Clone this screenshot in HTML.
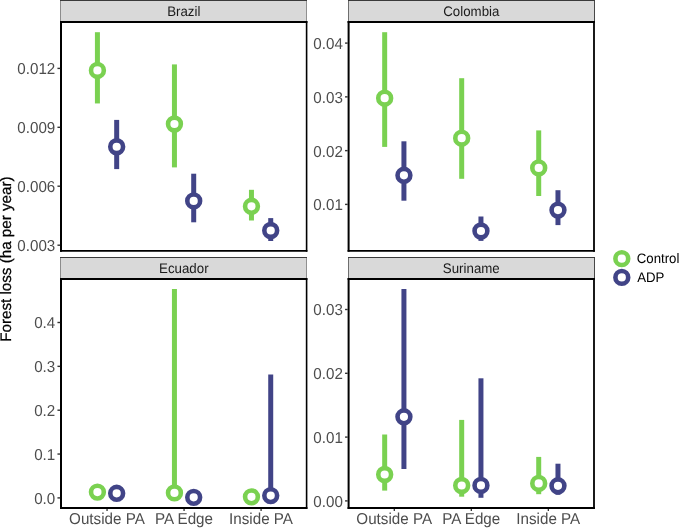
<!DOCTYPE html>
<html><head><meta charset="utf-8"><title>Forest loss</title>
<style>
html,body{margin:0;padding:0;background:#fff;}
svg{display:block;}
text{font-family:"Liberation Sans",Arial,Helvetica,sans-serif;text-rendering:geometricPrecision;}
.ax{font-size:15.2px;fill:#4D4D4D;}
.st{font-size:13.3px;fill:#1A1A1A;}
.lg{font-size:13.25px;fill:#000;}
.ti{font-size:15.2px;fill:#000;}
</style></head><body>
<svg width="685" height="528" viewBox="0 0 685 528">
<rect x="0" y="0" width="685" height="528" fill="#fff"/>
<g shape-rendering="crispEdges"><rect x="60" y="0" width="247" height="22" fill="#D9D9D9"/><rect x="60" y="0" width="1" height="22" fill="#8C8C8C"/><rect x="306" y="0" width="1" height="22" fill="#909090"/><rect x="60" y="0" width="247" height="1" fill="#3A3A3A"/></g>
<text class="st" transform="translate(183.80,15.90) scale(1,1.04)" text-anchor="middle">Brazil</text>
<line x1="97.42" x2="97.42" y1="32.2" y2="103.45" stroke="#7AD151" stroke-width="5.0"/><circle cx="97.42" cy="70.45" r="6.4" fill="#fff" stroke="#7AD151" stroke-width="4.6"/>
<line x1="116.68" x2="116.68" y1="119.9" y2="169.1" stroke="#414487" stroke-width="5.0"/><circle cx="116.68" cy="146.75" r="6.4" fill="#fff" stroke="#414487" stroke-width="4.6"/>
<line x1="174.44" x2="174.44" y1="64.4" y2="167.4" stroke="#7AD151" stroke-width="5.0"/><circle cx="174.44" cy="124.0" r="6.4" fill="#fff" stroke="#7AD151" stroke-width="4.6"/>
<line x1="193.7" x2="193.7" y1="173.7" y2="222.3" stroke="#414487" stroke-width="5.0"/><circle cx="193.7" cy="200.9" r="6.4" fill="#fff" stroke="#414487" stroke-width="4.6"/>
<line x1="251.46" x2="251.46" y1="189.8" y2="220.5" stroke="#7AD151" stroke-width="5.0"/><circle cx="251.46" cy="206.3" r="6.4" fill="#fff" stroke="#7AD151" stroke-width="4.6"/>
<line x1="270.72" x2="270.72" y1="218.1" y2="241.0" stroke="#414487" stroke-width="5.0"/><circle cx="270.72" cy="230.5" r="6.4" fill="#fff" stroke="#414487" stroke-width="4.6"/>
<g stroke="#000" fill="none"><line x1="61.0" x2="61.0" y1="21.00" y2="251.70" stroke-width="2.0"/><line x1="306.6" x2="306.6" y1="21.00" y2="251.70" stroke-width="1.6"/><line x1="60.00" x2="307.40" y1="21.95" y2="21.95" stroke-width="1.9"/><line x1="60.00" x2="307.40" y1="250.8" y2="250.8" stroke-width="1.8"/></g>
<line x1="57.45" x2="60.1" y1="68.4" y2="68.4" stroke="#333" stroke-width="1.4"/><text class="ax" transform="translate(55.30,74.30) scale(1,1.04)" text-anchor="end">0.012</text>
<line x1="57.45" x2="60.1" y1="127.3" y2="127.3" stroke="#333" stroke-width="1.4"/><text class="ax" transform="translate(55.30,133.20) scale(1,1.04)" text-anchor="end">0.009</text>
<line x1="57.45" x2="60.1" y1="186.2" y2="186.2" stroke="#333" stroke-width="1.4"/><text class="ax" transform="translate(55.30,192.10) scale(1,1.04)" text-anchor="end">0.006</text>
<line x1="57.45" x2="60.1" y1="245.2" y2="245.2" stroke="#333" stroke-width="1.4"/><text class="ax" transform="translate(55.30,251.10) scale(1,1.04)" text-anchor="end">0.003</text>
<g shape-rendering="crispEdges"><rect x="348" y="0" width="247" height="22" fill="#D9D9D9"/><rect x="348" y="0" width="1" height="22" fill="#6E6E6E"/><rect x="594" y="0" width="1" height="22" fill="#474747"/><rect x="348" y="0" width="247" height="1" fill="#3A3A3A"/></g>
<text class="st" transform="translate(471.30,15.90) scale(1,1.04)" text-anchor="middle">Colombia</text>
<line x1="384.67" x2="384.67" y1="32.2" y2="146.9" stroke="#7AD151" stroke-width="5.0"/><circle cx="384.67" cy="98.2" r="6.4" fill="#fff" stroke="#7AD151" stroke-width="4.6"/>
<line x1="403.93" x2="403.93" y1="141.3" y2="200.7" stroke="#414487" stroke-width="5.0"/><circle cx="403.93" cy="175.3" r="6.4" fill="#fff" stroke="#414487" stroke-width="4.6"/>
<line x1="461.69" x2="461.69" y1="78.2" y2="178.8" stroke="#7AD151" stroke-width="5.0"/><circle cx="461.69" cy="138.2" r="6.4" fill="#fff" stroke="#7AD151" stroke-width="4.6"/>
<line x1="480.95" x2="480.95" y1="216.5" y2="240.9" stroke="#414487" stroke-width="5.0"/><circle cx="480.95" cy="231.0" r="6.4" fill="#fff" stroke="#414487" stroke-width="4.6"/>
<line x1="538.71" x2="538.71" y1="130.4" y2="196.0" stroke="#7AD151" stroke-width="5.0"/><circle cx="538.71" cy="167.9" r="6.4" fill="#fff" stroke="#7AD151" stroke-width="4.6"/>
<line x1="557.97" x2="557.97" y1="190.2" y2="225.1" stroke="#414487" stroke-width="5.0"/><circle cx="557.97" cy="210.1" r="6.4" fill="#fff" stroke="#414487" stroke-width="4.6"/>
<g stroke="#000" fill="none"><line x1="348.6" x2="348.6" y1="21.00" y2="251.70" stroke-width="2.0"/><line x1="594.0" x2="594.0" y1="21.00" y2="251.70" stroke-width="1.8"/><line x1="347.60" x2="594.90" y1="21.95" y2="21.95" stroke-width="1.9"/><line x1="347.60" x2="594.90" y1="250.8" y2="250.8" stroke-width="1.8"/></g>
<line x1="345.05" x2="347.70000000000005" y1="43.1" y2="43.1" stroke="#333" stroke-width="1.4"/><text class="ax" transform="translate(342.90,49.00) scale(1,1.04)" text-anchor="end">0.04</text>
<line x1="345.05" x2="347.70000000000005" y1="96.87" y2="96.87" stroke="#333" stroke-width="1.4"/><text class="ax" transform="translate(342.90,102.77) scale(1,1.04)" text-anchor="end">0.03</text>
<line x1="345.05" x2="347.70000000000005" y1="150.63" y2="150.63" stroke="#333" stroke-width="1.4"/><text class="ax" transform="translate(342.90,156.53) scale(1,1.04)" text-anchor="end">0.02</text>
<line x1="345.05" x2="347.70000000000005" y1="204.4" y2="204.4" stroke="#333" stroke-width="1.4"/><text class="ax" transform="translate(342.90,210.30) scale(1,1.04)" text-anchor="end">0.01</text>
<g shape-rendering="crispEdges"><rect x="60" y="257" width="247" height="22" fill="#D9D9D9"/><rect x="60" y="257" width="1" height="22" fill="#8C8C8C"/><rect x="306" y="257" width="1" height="22" fill="#909090"/><rect x="60" y="257" width="247" height="1" fill="#3A3A3A"/></g>
<text class="st" transform="translate(183.80,272.90) scale(1,1.04)" text-anchor="middle">Ecuador</text>
<circle cx="97.42" cy="492.1" r="6.4" fill="#fff" stroke="#7AD151" stroke-width="4.6"/>
<circle cx="116.68" cy="493.3" r="6.4" fill="#fff" stroke="#414487" stroke-width="4.6"/>
<line x1="174.44" x2="174.44" y1="289.0" y2="492.9" stroke="#7AD151" stroke-width="5.0"/><circle cx="174.44" cy="492.9" r="6.4" fill="#fff" stroke="#7AD151" stroke-width="4.6"/>
<circle cx="193.7" cy="497.35" r="6.4" fill="#fff" stroke="#414487" stroke-width="4.6"/>
<circle cx="251.46" cy="496.85" r="6.4" fill="#fff" stroke="#7AD151" stroke-width="4.6"/>
<line x1="270.72" x2="270.72" y1="374.5" y2="495.6" stroke="#414487" stroke-width="5.0"/><circle cx="270.72" cy="495.6" r="6.4" fill="#fff" stroke="#414487" stroke-width="4.6"/>
<g stroke="#000" fill="none"><line x1="61.0" x2="61.0" y1="278.10" y2="509.00" stroke-width="2.0"/><line x1="306.6" x2="306.6" y1="278.10" y2="509.00" stroke-width="1.6"/><line x1="60.00" x2="307.40" y1="279.05" y2="279.05" stroke-width="1.9"/><line x1="60.00" x2="307.40" y1="508.0" y2="508.0" stroke-width="2.0"/></g>
<line x1="57.45" x2="60.1" y1="322.5" y2="322.5" stroke="#333" stroke-width="1.4"/><text class="ax" transform="translate(55.30,328.40) scale(1,1.04)" text-anchor="end">0.4</text>
<line x1="57.45" x2="60.1" y1="366.35" y2="366.35" stroke="#333" stroke-width="1.4"/><text class="ax" transform="translate(55.30,372.25) scale(1,1.04)" text-anchor="end">0.3</text>
<line x1="57.45" x2="60.1" y1="410.2" y2="410.2" stroke="#333" stroke-width="1.4"/><text class="ax" transform="translate(55.30,416.10) scale(1,1.04)" text-anchor="end">0.2</text>
<line x1="57.45" x2="60.1" y1="454.05" y2="454.05" stroke="#333" stroke-width="1.4"/><text class="ax" transform="translate(55.30,459.95) scale(1,1.04)" text-anchor="end">0.1</text>
<line x1="57.45" x2="60.1" y1="497.9" y2="497.9" stroke="#333" stroke-width="1.4"/><text class="ax" transform="translate(55.30,503.80) scale(1,1.04)" text-anchor="end">0.0</text>
<line x1="107.05" x2="107.05" y1="508.9" y2="511.1" stroke="#333" stroke-width="1.3"/><text class="ax" transform="translate(106.95,524.40) scale(1,1.04)" text-anchor="middle">Outside PA</text>
<line x1="184.07" x2="184.07" y1="508.9" y2="511.1" stroke="#333" stroke-width="1.3"/><text class="ax" transform="translate(183.97,524.40) scale(1,1.04)" text-anchor="middle">PA Edge</text>
<line x1="261.09" x2="261.09" y1="508.9" y2="511.1" stroke="#333" stroke-width="1.3"/><text class="ax" transform="translate(260.99,524.40) scale(1,1.04)" text-anchor="middle">Inside PA</text>
<g shape-rendering="crispEdges"><rect x="348" y="257" width="247" height="22" fill="#D9D9D9"/><rect x="348" y="257" width="1" height="22" fill="#6E6E6E"/><rect x="594" y="257" width="1" height="22" fill="#474747"/><rect x="348" y="257" width="247" height="1" fill="#3A3A3A"/></g>
<text class="st" transform="translate(471.30,272.90) scale(1,1.04)" text-anchor="middle">Suriname</text>
<line x1="384.67" x2="384.67" y1="434.5" y2="490.6" stroke="#7AD151" stroke-width="5.0"/><circle cx="384.67" cy="474.5" r="6.4" fill="#fff" stroke="#7AD151" stroke-width="4.6"/>
<line x1="403.93" x2="403.93" y1="288.9" y2="469.0" stroke="#414487" stroke-width="5.0"/><circle cx="403.93" cy="416.8" r="6.4" fill="#fff" stroke="#414487" stroke-width="4.6"/>
<line x1="461.69" x2="461.69" y1="419.9" y2="496.7" stroke="#7AD151" stroke-width="5.0"/><circle cx="461.69" cy="485.5" r="6.4" fill="#fff" stroke="#7AD151" stroke-width="4.6"/>
<line x1="480.95" x2="480.95" y1="378.3" y2="497.8" stroke="#414487" stroke-width="5.0"/><circle cx="480.95" cy="485.4" r="6.4" fill="#fff" stroke="#414487" stroke-width="4.6"/>
<line x1="538.71" x2="538.71" y1="456.9" y2="494.2" stroke="#7AD151" stroke-width="5.0"/><circle cx="538.71" cy="483.4" r="6.4" fill="#fff" stroke="#7AD151" stroke-width="4.6"/>
<line x1="557.97" x2="557.97" y1="463.7" y2="494.8" stroke="#414487" stroke-width="5.0"/><circle cx="557.97" cy="485.8" r="6.4" fill="#fff" stroke="#414487" stroke-width="4.6"/>
<g stroke="#000" fill="none"><line x1="348.6" x2="348.6" y1="278.10" y2="509.00" stroke-width="2.0"/><line x1="594.0" x2="594.0" y1="278.10" y2="509.00" stroke-width="1.8"/><line x1="347.60" x2="594.90" y1="279.05" y2="279.05" stroke-width="1.9"/><line x1="347.60" x2="594.90" y1="508.0" y2="508.0" stroke-width="2.0"/></g>
<line x1="345.05" x2="347.70000000000005" y1="309.5" y2="309.5" stroke="#333" stroke-width="1.4"/><text class="ax" transform="translate(342.90,315.40) scale(1,1.04)" text-anchor="end">0.03</text>
<line x1="345.05" x2="347.70000000000005" y1="373.3" y2="373.3" stroke="#333" stroke-width="1.4"/><text class="ax" transform="translate(342.90,379.20) scale(1,1.04)" text-anchor="end">0.02</text>
<line x1="345.05" x2="347.70000000000005" y1="437.1" y2="437.1" stroke="#333" stroke-width="1.4"/><text class="ax" transform="translate(342.90,443.00) scale(1,1.04)" text-anchor="end">0.01</text>
<line x1="345.05" x2="347.70000000000005" y1="500.9" y2="500.9" stroke="#333" stroke-width="1.4"/><text class="ax" transform="translate(342.90,506.80) scale(1,1.04)" text-anchor="end">0.00</text>
<line x1="394.30" x2="394.30" y1="508.9" y2="511.1" stroke="#333" stroke-width="1.3"/><text class="ax" transform="translate(394.20,524.40) scale(1,1.04)" text-anchor="middle">Outside PA</text>
<line x1="471.32" x2="471.32" y1="508.9" y2="511.1" stroke="#333" stroke-width="1.3"/><text class="ax" transform="translate(471.22,524.40) scale(1,1.04)" text-anchor="middle">PA Edge</text>
<line x1="548.34" x2="548.34" y1="508.9" y2="511.1" stroke="#333" stroke-width="1.3"/><text class="ax" transform="translate(548.24,524.40) scale(1,1.04)" text-anchor="middle">Inside PA</text>
<text class="ti" transform="translate(10.6,341.8) rotate(-90)" stroke="#000" stroke-width="0.25" textLength="165.4" lengthAdjust="spacing">Forest loss (ha per year)</text>
<circle cx="621.8" cy="258.65" r="6.4" fill="#fff" stroke="#7AD151" stroke-width="4.6"/><circle cx="621.8" cy="277.4" r="6.4" fill="#fff" stroke="#414487" stroke-width="4.6"/>
<text class="lg" transform="translate(636.70,263.30) scale(1,1.04)" text-anchor="start">Control</text>
<text class="lg" transform="translate(637.20,281.90) scale(1,1.04)" text-anchor="start">ADP</text>
</svg></body></html>
